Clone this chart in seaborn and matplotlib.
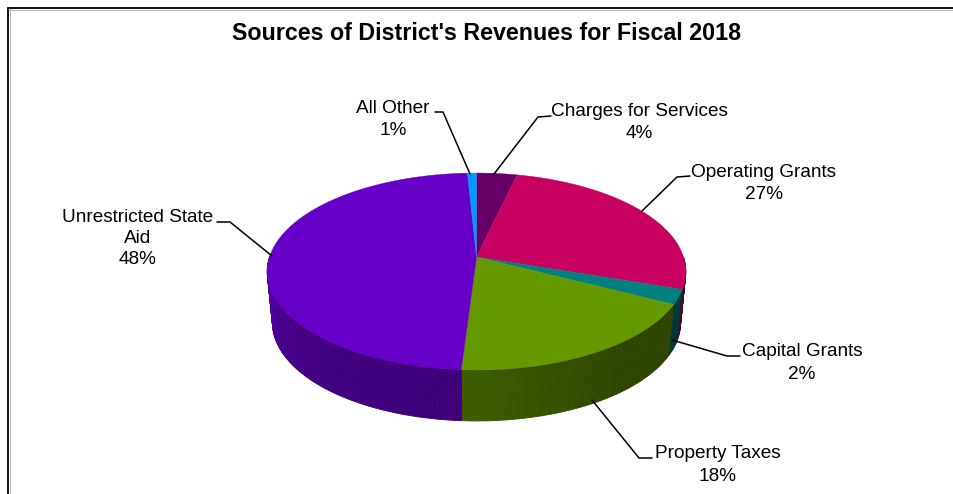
import matplotlib
matplotlib.use("Agg")
import matplotlib.pyplot as plt
import numpy as np
import seaborn as sns

categories = ["Charges for Services", "Operating Grants", "Capital Grants",
              "Property Taxes", "Unrestricted State\nAid", "All Other"]
shares = [3.6, 26.6, 2.4, 18.4, 48.2, 0.8]
colors = ["#660066", "#c80060", "#008080", "#669900", "#6600c8", "#0099ff"]

# pixel layout of the 3D look
CX, CY = 476.5, 257
KX = 207
A, C = -58.5, 0.1472
DEPTH = 51
SHRINK = 0.975

sns.set_theme(style="white")
plt.rcParams["font.family"] = ["Liberation Sans", "DejaVu Sans"]


def project(u, v, depth=0.0):
    w = 1 + C * v
    scale = 1 - (1 - SHRINK) * depth / DEPTH
    x = CX + KX * scale * u / w
    y = (A * v + CY) / w
    return x, y + depth


def shade_at(angle):
    # clockwise degrees from 12 o'clock, lighter at the left side
    return np.interp(angle, [90, 140, 180, 230, 270], [0.42, 0.45, 0.6, 0.66, 0.8])


fig = plt.figure(figsize=(9.54, 4.94), dpi=100)
ax = fig.add_axes([0, 0, 1, 1])

# the pie gives the slice angles, the top face is then tilted from them
wedges, _ = ax.pie(shares, colors=colors, startangle=90, counterclock=False, frame=True)
ax.set_aspect("auto")
ax.set_xlim(0, 954)
ax.set_ylim(494, 0)
ax.axis("off")

for wedge, color in zip(wedges, colors):
    wedge.set_visible(False)
    # back to clockwise degrees from 12 o'clock
    start, stop = 90 - wedge.theta2, 90 - wedge.theta1

    # side wall
    ramp = sns.blend_palette(["black", color], 101)
    steps = np.r_[np.arange(start, stop, 1.0), stop]
    for a0, a1 in zip(steps[:-1], steps[1:]):
        if a1 <= 90 or a0 >= 270:
            continue
        t = np.radians([a0, a1])
        u, v = np.sin(t), np.cos(t)
        x_top, y_top = project(u, v)
        x_bot, y_bot = project(u, v, DEPTH)
        face = ramp[int(round(shade_at((a0 + a1) / 2) * 100))]
        ax.fill(np.r_[x_top, x_bot[::-1]], np.r_[y_top, y_bot[::-1]],
                color=face, lw=0.6, zorder=1)

    # top face
    t = np.radians(np.linspace(start, stop, 120))
    x_rim, y_rim = project(np.sin(t), np.cos(t))
    ax.fill(np.r_[CX, x_rim], np.r_[CY, y_rim], color=color, lw=0.3, zorder=2)

# labels and leader lines
label_pos = [(639, 122.5), (764, 183.5), (802, 363), (718, 465), (138, 238.5), (393, 119.5)]
leaders = [
    [(551, 116), (538, 117), (494, 174)],
    [(690, 176), (677, 177), (642, 211)],
    [(740, 356), (727, 356), (672, 340)],
    [(652, 458), (639, 458), (592, 400)],
    [(217, 222), (230, 222), (272, 256)],
    [(435, 112), (443, 112), (470, 174)],
]
for name, share, (tx, ty), line in zip(categories, shares, label_pos, leaders):
    spacing = 1.3 if "\n" in name else 1.45
    ax.text(tx, ty, f"{name}\n{share:.0f}%", ha="center", va="center",
            fontsize=13.7, color="black", linespacing=spacing, zorder=4)
    xs, ys = zip(*line)
    ax.plot(xs, ys, color="black", lw=1.1, zorder=3)

ax.text(487, 33, "Sources of District's Revenues for Fiscal 2018", ha="center", va="center",
        fontsize=16.75, fontweight="bold", color="black")

# chart frame, only top and left are in the crop
ax.plot([9.5, 956], [9.9, 9.9], color="#b4b4b4", lw=0.7, zorder=0)
ax.plot([9.9, 9.9], [9.5, 496], color="#b4b4b4", lw=0.7, zorder=0)
ax.plot([8.5, 956], [8.5, 8.5], color="black", lw=1.3, zorder=0)
ax.plot([8.5, 8.5], [8.5, 496], color="black", lw=1.3, zorder=0)

fig.savefig("out.png", dpi=100)
